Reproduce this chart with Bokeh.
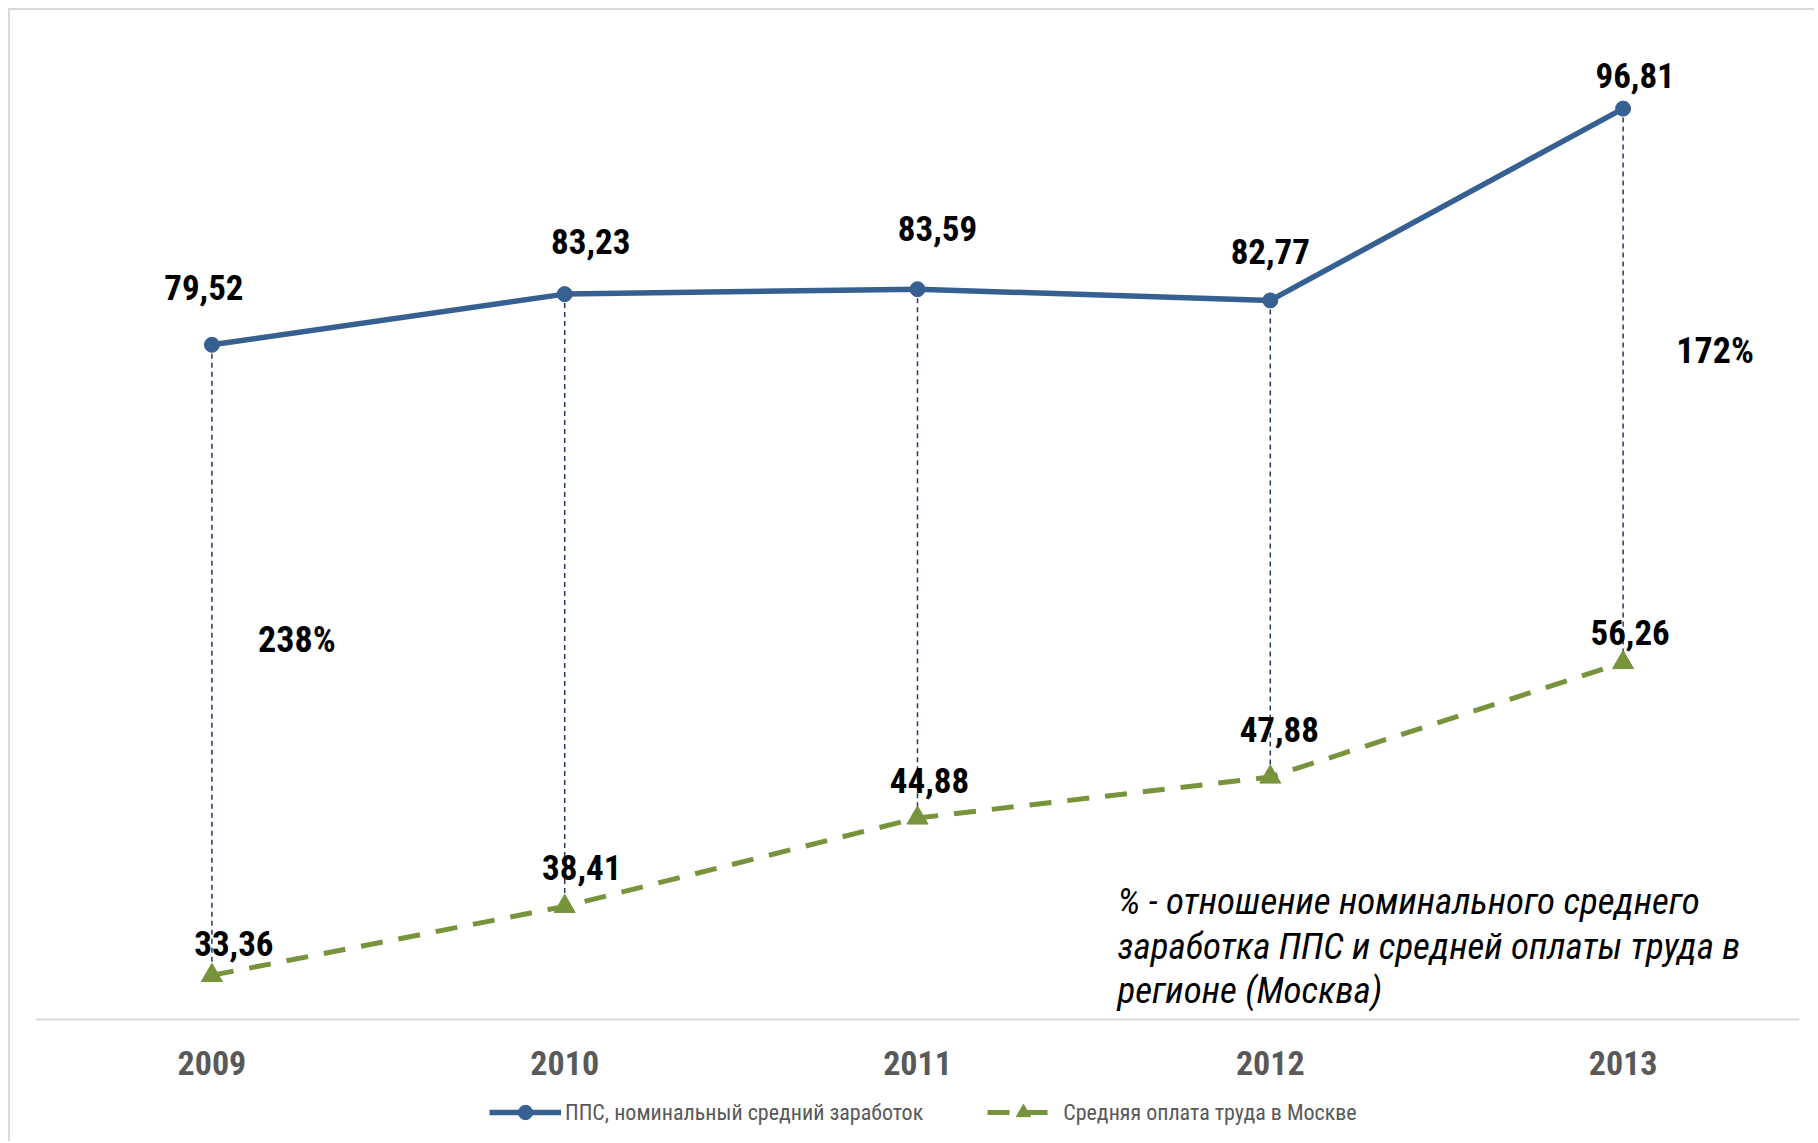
from bokeh.plotting import figure
from bokeh.models import ColumnDataSource, Legend, LegendItem, Label, Range1d, FactorRange
from bokeh.core.properties import value
from bokeh.embed import file_html
from bokeh.resources import INLINE

# ---- data ----
years = ["2009", "2010", "2011", "2012", "2013"]
pps_salary = [79.52, 83.23, 83.59, 82.77, 96.81]
moscow_avg = [33.36, 38.41, 44.88, 47.88, 56.26]
series_names = ["ППС, номинальный средний заработок", "Средняя оплата труда в Москве"]
note_lines = ["% - отношение номинального среднего",
              "заработка ППС и средней оплаты труда в",
              "регионе (Москва)"]
ratio_years = ["2009", "2013"]

# ---- styles / label offsets (pixels) ----
BLUE = "#376092"
GREEN = "#77933c"
NAVY = "#1f3864"
GRAY = "#595959"
FONT = "Roboto Condensed"
blue_dx = [-8, 26, 20, 0, 12]
blue_dy = [-57, -53, -61, -49, -33]
green_dx = [22, 17, 12, 9, 7]
green_dy = [-32, -39, -38, -48, -30]
ratio_dx = [85, 92]
ratio_dy = [-20, -35]

# vertical scale: axis baseline value and the frame extent around it
AXIS_Y = 30.13
Y_LO, Y_HI = 21.20, 103.26

fmt = lambda v: f"{v:.2f}".replace(".", ",")

p = figure(width=1806, height=1133, output_backend="svg", toolbar_location=None,
           x_range=FactorRange(factors=years, range_padding=0),
           y_range=Range1d(Y_LO, Y_HI),
           min_border_left=25, min_border_right=17, min_border_top=10, min_border_bottom=2)
p.styles = {"margin-left": "8px", "margin-top": "8px",
            "border-left": "2px solid #d9d9d9", "border-top": "2px solid #d9d9d9"}
p.outline_line_color = None
p.xgrid.visible = False
p.ygrid.visible = False
p.yaxis.visible = False
p.background_fill_color = "white"
p.border_fill_color = "white"

xa = p.xaxis[0]
xa.fixed_location = AXIS_Y
xa.axis_line_color = "#d9d9d9"
xa.axis_line_width = 2
xa.major_tick_line_color = None
xa.minor_tick_line_color = None
xa.major_label_text_font = FONT
xa.major_label_text_font_size = "34px"
xa.major_label_text_font_style = "bold"
xa.major_label_text_color = GRAY
xa.major_label_standoff = 25

src = ColumnDataSource(dict(
    x=years, pps=pps_salary, avg=moscow_avg,
    pps_lbl=[fmt(v) for v in pps_salary], avg_lbl=[fmt(v) for v in moscow_avg],
    bdx=blue_dx, bdy=blue_dy, gdx=green_dx, gdy=green_dy,
))

p.segment(x0="x", y0="pps", x1="x", y1="avg", source=src,
          line_color=NAVY, line_width=1.5, line_dash="5 4")

bl = p.line("x", "pps", source=src, line_color=BLUE, line_width=5.5)
bm = p.scatter("x", "pps", source=src, marker="circle", size=15,
               fill_color=BLUE, line_color=BLUE)
gl = p.line("x", "avg", source=src, line_color=GREEN, line_width=5, line_dash="22 16")
gm = p.scatter("x", "avg", source=src, marker="triangle", size=21,
               fill_color=GREEN, line_color=GREEN)

common = dict(text_font=value(FONT), text_font_size="35px", text_font_style="bold",
              text_color="black", text_align="center", text_baseline="middle")
p.text(x="x", y="pps", text="pps_lbl", x_offset="bdx", y_offset="bdy", source=src, **common)
p.text(x="x", y="avg", text="avg_lbl", x_offset="gdx", y_offset="gdy", source=src, **common)

idx = [years.index(y) for y in ratio_years]
rsrc = ColumnDataSource(dict(
    x=ratio_years,
    y=[(pps_salary[i] + moscow_avg[i]) / 2 for i in idx],
    t=[f"{round(pps_salary[i] / moscow_avg[i] * 100)}%" for i in idx],
    dx=ratio_dx, dy=ratio_dy,
))
p.text(x="x", y="y", text="t", x_offset="dx", y_offset="dy", source=rsrc,
       **{**common, "text_font_size": "36px"})

# note (screen px from frame bottom-left)
for k, line in enumerate(note_lines):
    p.add_layout(Label(x=1082, y=240 - k * 44.5, x_units="screen", y_units="screen",
                       text=line, text_font=FONT, text_font_size="37px",
                       text_font_style="italic", text_color="black",
                       text_baseline="middle", text_align="left"))

legend = Legend(items=[LegendItem(label=series_names[0], renderers=[bl, bm]),
                       LegendItem(label=series_names[1], renderers=[gl, gm])],
                location=(454, 11), orientation="horizontal",
                label_text_font=FONT, label_text_font_size="22px", label_text_color=GRAY,
                glyph_width=72, glyph_height=36, label_height=36, label_standoff=4,
                spacing=64, padding=0, margin=0,
                border_line_color=None, background_fill_alpha=0)
p.add_layout(legend, "center")

open("out.html", "w").write(file_html(p, INLINE))
